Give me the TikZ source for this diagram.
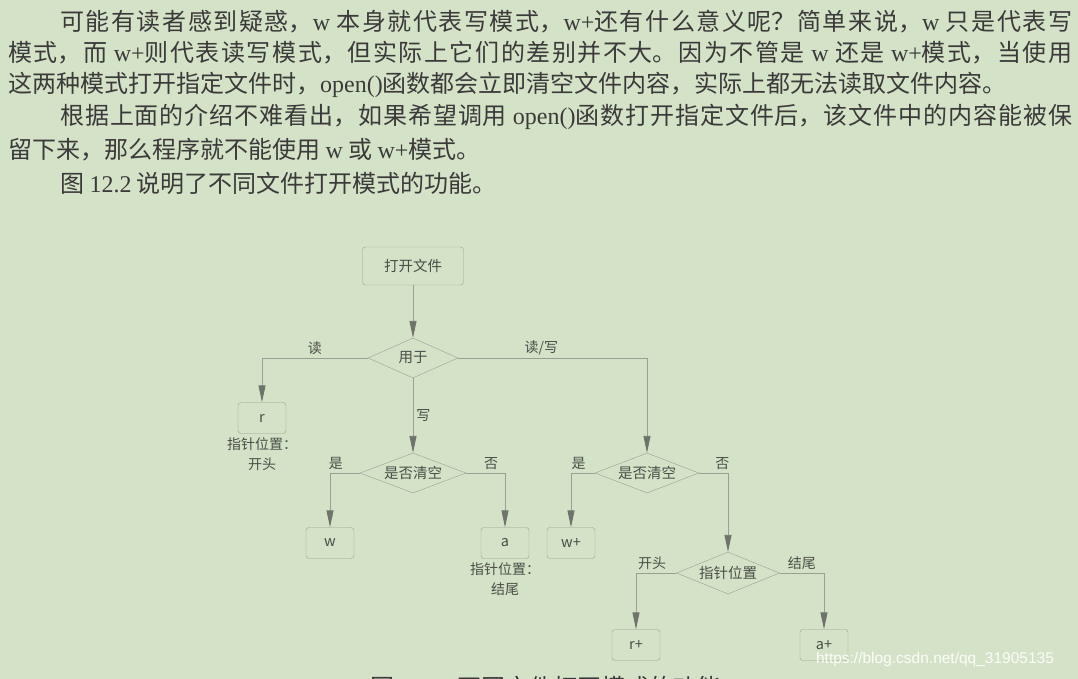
\documentclass[tikz,border=0pt]{standalone}
\usepackage{fontspec}
\usepackage{xcolor}
\setmainfont{Liberation Serif}
\newfontfamily\cjk{Noto Sans CJK SC}
\newfontfamily\wmfont{Liberation Sans}
\usetikzlibrary{shapes.geometric, arrows.meta, positioning}
\XeTeXlinebreaklocale "zh"
\XeTeXlinebreakskip=0pt plus 4pt
\definecolor{paper}{HTML}{D4E3C7}
\definecolor{ink}{HTML}{3A3A3A}
\definecolor{flowline}{HTML}{98A093}
\definecolor{flowtip}{HTML}{6E746B}
\definecolor{flowtext}{HTML}{4A4E47}
\newcommand{\lt}[1]{{\rmfamily #1}}

\begin{document}
\begin{tikzpicture}[x=1pt, y=-1pt,
    line/.style={anchor=west, inner sep=0pt, text width=1064pt, align=justify, text=ink, font=\cjk\fontsize{24}{32}\selectfont},
    box/.style={rectangle, rounded corners=3pt, draw=flowline, fill=paper, text=flowtext, font=\cjk\fontsize{14.5}{16}\selectfont, minimum width=48pt, minimum height=31pt, inner sep=0pt},
    dec/.style={diamond, aspect=2.6, draw=flowline, fill=paper, text=flowtext, font=\cjk\fontsize{14.5}{16}\selectfont, inner sep=0pt, minimum height=40pt},
    conn/.style={draw=flowline, line width=0.9pt, -{Triangle[length=17pt, width=7pt, color=flowtip]}},
    lbl/.style={text=flowtext, font=\cjk\fontsize{14}{16}\selectfont, inner sep=3pt},
    note/.style={text=flowtext, font=\cjk\fontsize{14}{20}\selectfont, align=center, inner sep=0pt}
]
\fill[paper] (0,0) rectangle (1078,679);
\useasboundingbox (0,0) rectangle (1078,679);

% text above the figure
\node[line] (t1) at (8,22) {\noindent\parfillskip=0pt\hspace*{52pt}可能有读者感到疑惑，\lt{w} 本身就代表写模式，\lt{w+}还有什么意义呢？简单来说，\lt{w} 只是代表写\par};
\node[line] (t2) at (8,53) {\noindent\parfillskip=0pt 模式，而 \lt{w+}则代表读写模式，但实际上它们的差别并不大。因为不管是 \lt{w} 还是 \lt{w+}模式，当使用\par};
\node[line] (t3) at (8,85) {\noindent 这两种模式打开指定文件时，\lt{open()}函数都会立即清空文件内容，实际上都无法读取文件内容。};
\node[line] (t4) at (8,117) {\noindent\parfillskip=0pt\hspace*{52pt}根据上面的介绍不难看出，如果希望调用 \lt{open()}函数打开指定文件后，该文件中的内容能被保\par};
\node[line] (t5) at (8,150) {\noindent 留下来，那么程序就不能使用 \lt{w} 或 \lt{w+}模式。};
\node[line] (t6) at (8,183) {\noindent\hspace*{52pt}图 \lt{12.2} 说明了不同文件打开模式的功能。};

% flow chart
\node[box, minimum width=101pt, minimum height=38pt] (open) at (413,266) {打开文件};
\node[dec, minimum width=90pt] (use) at (413,358) {用于};
\node[box] (r) at (262,418) {r};
\node[note, below=4pt of r] (rnote) {指针位置：\\开头};
\node[dec, minimum width=106pt] (clr1) at (413,473) {是否清空};
\node[dec, minimum width=104pt] (clr2) at (647,473) {是否清空};
\node[box] (w) at (330,543) {w};
\node[box] (a) at (505,543) {a};
\node[note, below=4pt of a] (anote) {指针位置：\\结尾};
\node[box] (wp) at (571,543) {w+};
\node[dec, minimum width=103pt, minimum height=42pt] (pos) at (728,573) {指针位置};
\node[box] (rp) at (636,645) {r+};
\node[box] (ap) at (824,645) {a+};

\draw[conn] (open) -- (use);
\draw[conn] (use.west) -| node[lbl, above, pos=.25] (lr) {读} (r);
\draw[conn] (use) -- node[lbl, right] (lw) {写} (clr1);
\draw[conn] (use.east) -| node[lbl, above, pos=.22] (lrw) {读/写} (clr2);

\draw[conn] (clr1.west) -| node[lbl, above, pos=.4] (ly1) {是} (w);
\draw[conn] (clr1.east) -| node[lbl, above, pos=.32] (ln1) {否} (a);
\draw[conn] (clr2.west) -| node[lbl, above, pos=.34] (ly2) {是} (wp);
\draw[conn] (clr2.east) -| node[lbl, above, pos=.4] (ln2) {否} (pos);

\draw[conn] (pos.west) -| node[lbl, above, pos=.3] (lb) {开头} (rp);
\draw[conn] (pos.east) -| node[lbl, above, pos=.25] (le) {结尾} (ap);

% caption (cut by the page edge) and watermark
\begin{scope}
\clip (0,0) rectangle (1078,679);
\node[anchor=west, inner sep=0pt, text=ink, font=\cjk\fontsize{24}{32}\selectfont] (cap) at (370,687) {图 \lt{12.2}\hspace{16pt}不同文件打开模式的功能};
\end{scope}
\node[text=white, opacity=.9, font=\wmfont\fontsize{15.5}{18}\selectfont, inner sep=0pt] (mark) at (935,659) {https://blog.csdn.net/qq\_31905135};
\end{tikzpicture}
\end{document}
